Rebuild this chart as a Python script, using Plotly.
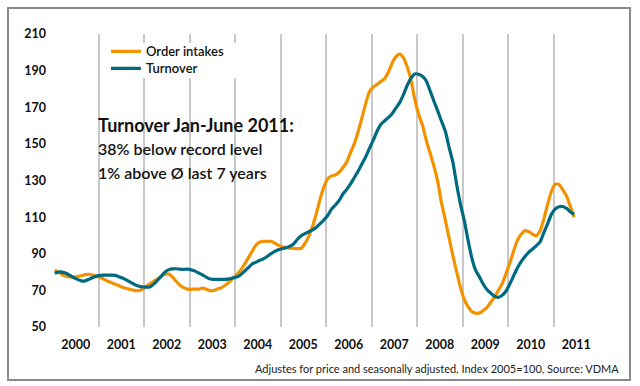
import pandas as pd
import plotly.graph_objects as go

# Monthly index values, Jan 2000 - Jun 2011 (2005 = 100)
months = pd.date_range("2000-01-01", periods=138, freq="MS") + pd.Timedelta(days=14)

order_intakes = [
    # 2000
    81, 80, 78.5, 77.7, 77.3, 77.3, 77.6, 78, 78.6, 78.8, 78.4, 77.6,
    # 2001
    77, 76, 75, 74.2, 73.4, 72.5, 71.6, 71, 70.5, 70, 69.8, 70.5,
    # 2002
    72, 73.5, 74.8, 76, 77.3, 78.6, 79, 77.5, 75, 72.8, 71.5, 70.7,
    # 2003
    70.6, 70.7, 70.7, 71.2, 70.6, 69.8, 70, 70.8, 71.5, 72.8, 74.5, 76.5,
    # 2004
    78.5, 81, 84, 87.5, 91, 94.5, 96.3, 96.8, 96.8, 96.8, 95.8, 94.6,
    # 2005
    93.8, 93.4, 93, 93, 92.8, 93, 95.5, 99.5, 105, 112, 120, 126.5,
    # 2006
    131, 132.5, 133, 134.5, 137, 140, 145, 150, 156.5, 164, 172, 178.5,
    # 2007
    181, 182.5, 184, 185.5, 189, 194, 197.5, 199, 197, 192, 184.5, 174,
    # 2008
    166, 160, 152, 145, 138, 129.5, 118, 108.5, 98.5, 89, 80, 71.5,
    # 2009
    65, 61, 58.5, 57.6, 57.6, 59, 60.6, 63.5, 66.5, 70, 73.7, 79,
    # 2010
    85, 91.5, 97, 100.5, 102.6, 102.2, 100.8, 99.8, 102.5, 109, 117, 124,
    # 2011
    128, 127.8, 125, 121.5, 116, 110,
]

turnover = [
    # 2000
    79.3, 80, 80, 79.3, 78.2, 77, 76, 75.2, 75.2, 76, 77, 77.8,
    # 2001
    78.2, 78.3, 78.3, 78.3, 78.2, 77.4, 76.6, 75.6, 74.4, 73.2, 72.4, 72,
    # 2002
    71.8, 71.8, 73.2, 75.2, 77.5, 79.8, 81.2, 81.7, 81.8, 81.6, 81.5, 81.6,
    # 2003
    81.2, 80.5, 79.5, 78.5, 77.2, 76.2, 76, 76, 76, 76, 76.3, 76.8,
    # 2004
    77.3, 78.5, 80.3, 82.3, 84.3, 85.3, 86.3, 87.2, 88.5, 90, 91.3, 92.2,
    # 2005
    92.8, 93.3, 94, 95.3, 97.8, 99.8, 101, 102, 103, 104.5, 106.5, 108.5,
    # 2006
    111, 114.5, 116.5, 119, 122.5, 125, 128, 131.5, 135, 139, 143, 147.5,
    # 2007
    152, 157, 160.5, 162.5, 164.3, 166.5, 169.5, 172.5, 177, 182, 186, 188.2,
    # 2008
    188, 186.8, 184.5, 179, 173.5, 168, 162.5, 157, 148, 140, 127.5, 117,
    # 2009
    108, 97, 88, 81, 77.5, 73.5, 70.5, 68.5, 66.7, 66.2, 67.3, 69.5,
    # 2010
    73.5, 78, 82, 85.5, 88.3, 90.8, 92.5, 94.3, 96.5, 101.5, 106.5, 111.5,
    # 2011
    114.5, 115.7, 115.8, 114.8, 113, 111.5,
]

y_ticks = [50, 70, 90, 110, 130, 150, 170, 190, 210]

note_lines = [
    "Turnover Jan-June 2011:",
    "38% below record level",
    "1% above Ø last 7 years",
]
footnote = "Adjustes for price and seasonally adjusted, Index 2005=100, Source: VDMA"

ORANGE = "#F39200"
TEAL = "#006A80"
FONT = "Lato"
LEGEND_FONT = dict(family=FONT, size=13, color="#111111", weight=600)

fig = go.Figure()
fig.add_trace(go.Scatter(
    x=months, y=order_intakes, name="Order intakes", mode="lines",
    line=dict(color=ORANGE, width=3.2, shape="spline", smoothing=0.6),
    legend="legend",
))
fig.add_trace(go.Scatter(
    x=months, y=turnover, name="Turnover", mode="lines",
    line=dict(color=TEAL, width=3.2, shape="spline", smoothing=0.6),
    legend="legend2",
))

fig.update_layout(
    width=640, height=386,
    margin=dict(l=53, r=41, t=34, b=59),
    paper_bgcolor="white", plot_bgcolor="white",
    font=dict(family=FONT, color="#111111"),
    showlegend=True,
    legend=dict(
        x=0.097, y=0.992, xanchor="left", yanchor="top",
        bgcolor="rgba(0,0,0,0)", borderwidth=0, font=LEGEND_FONT, itemwidth=30,
    ),
    legend2=dict(
        x=0.097, y=0.934, xanchor="left", yanchor="top",
        bgcolor="rgba(0,0,0,0)", borderwidth=0, font=LEGEND_FONT, itemwidth=30,
    ),
    xaxis=dict(
        type="date",
        range=["2000-01-01", "2012-01-01"],
        dtick="M12", tick0="2000-01-01",
        tickformat="%Y", ticklabelmode="period",
        showgrid=True, gridcolor="#C8C8C8", gridwidth=1.5,
        ticks="", showline=False, zeroline=False,
        tickfont=dict(family=FONT, size=12.5, color="#111111", weight="bold"),
        ticklabelstandoff=8,
    ),
    yaxis=dict(
        range=[50, 210],
        tickvals=y_ticks,
        showgrid=False, zeroline=False, showline=False, ticks="",
        tickfont=dict(family=FONT, size=12.5, color="#111111", weight="bold"),
        ticklabelstandoff=6,
    ),
)

# Legend background (white box hiding gridlines behind the legend)
fig.add_shape(type="rect", xref="paper", yref="paper",
              x0=(104 - 53) / 546, x1=(236 - 53) / 546,
              y0=(327 - 78) / 293, y1=(327 - 43) / 293,
              line=dict(width=0), fillcolor="white", layer="above")

# Text block
fig.add_annotation(x="2001-01-01", y=160.3, xref="x", yref="y", text=note_lines[0],
                   showarrow=False, xanchor="left", yanchor="middle", xshift=-3,
                   font=dict(family=FONT, size=18, color="#111111", weight="bold"))
fig.add_annotation(x="2001-01-01", y=147.5, xref="x", yref="y", text=note_lines[1],
                   showarrow=False, xanchor="left", yanchor="middle", xshift=-3,
                   font=dict(family=FONT, size=16, color="#111111", weight=600))
fig.add_annotation(x="2001-01-01", y=134.5, xref="x", yref="y", text=note_lines[2],
                   showarrow=False, xanchor="left", yanchor="middle", xshift=-3,
                   font=dict(family=FONT, size=16, color="#111111", weight=600))

# Footnote
fig.add_annotation(x=(621 - 53) / 546, y=-(368 - 327) / 293, xref="paper", yref="paper",
                   text=footnote, showarrow=False, xanchor="right", yanchor="middle",
                   font=dict(family=FONT, size=11, color="#222222"))

# Outer frame
fig.add_shape(type="rect", xref="paper", yref="paper",
              x0=(8 - 53) / 546, x1=(630 - 53) / 546,
              y0=(327 - 380) / 293, y1=(327 - 8) / 293,
              line=dict(color="#8A8A8A", width=2), fillcolor="rgba(0,0,0,0)",
              layer="below")

fig.write_html(
    "out.html",
    config={"displayModeBar": False},
    post_script="document.body.style.margin='0';document.body.style.overflow='hidden';",
)
